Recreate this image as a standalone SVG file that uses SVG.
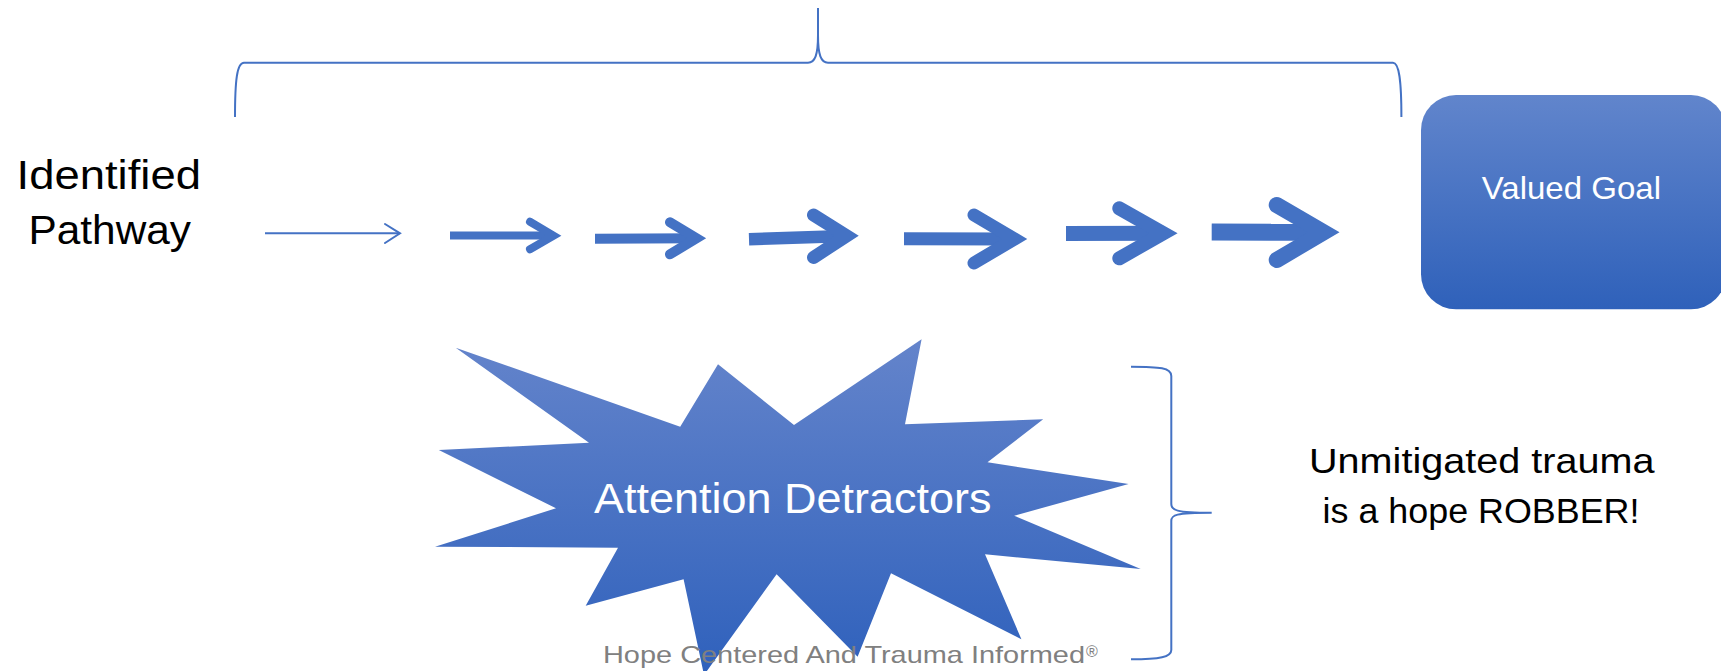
<svg xmlns="http://www.w3.org/2000/svg" width="1721" height="671" viewBox="0 0 1721 671">
<defs>
<linearGradient id="gBox" x1="0" y1="0" x2="0" y2="1">
<stop offset="0" stop-color="#6185CC"/>
<stop offset="1" stop-color="#2F61BA"/>
</linearGradient>
<linearGradient id="gStar" x1="0" y1="0" x2="0" y2="1">
<stop offset="0" stop-color="#6484CB"/>
<stop offset="1" stop-color="#2F61BC"/>
</linearGradient>
</defs>
<style>
.brace{fill:none;stroke:#4472C4;stroke-width:2}
.shaft{fill:none;stroke:#4472C4;stroke-linecap:butt}
.head{fill:none;stroke:#4472C4;stroke-linecap:round;stroke-linejoin:miter;stroke-miterlimit:10}
.lbl{font-family:"Liberation Sans",Arial,sans-serif;fill:#000}
.wht{font-family:"Liberation Sans",Arial,sans-serif;fill:#FFFFFF}
.foot{font-family:"Liberation Sans",Arial,sans-serif;fill:#808080}
</style>
<rect width="1721" height="671" fill="#FFFFFF"/>

<g id="brace-top">
<path class="brace" d="M235,117 C235,80 237,62.7 244,62.7 L808,62.7 C815,62.7 818,55 818,35 L818,8 L818,35 C818,55 821,62.7 828,62.7 L1393,62.7 C1399,62.7 1401.4,80 1401.4,117"/>
</g>

<g id="identified-pathway">
<text class="lbl" x="16.5" y="188.5" font-size="40.5" textLength="184.5" lengthAdjust="spacingAndGlyphs">Identified</text>
<text class="lbl" x="28.5" y="244" font-size="40.5" textLength="162.5" lengthAdjust="spacingAndGlyphs">Pathway</text>
</g>

<g id="connectors">
<line class="shaft" x1="265" y1="233.3" x2="400" y2="233.3" stroke-width="2"/>
<polyline class="head" points="385,224 400,233.3 385,243" stroke-width="2"/>

<line class="shaft" x1="450" y1="235.5" x2="553.5" y2="235.6" stroke-width="8"/>
<polyline class="head" points="530,221.7 553.5,235.6 530,249.3" stroke-width="8"/>

<line class="shaft" x1="595" y1="238.8" x2="696.5" y2="238.3" stroke-width="10"/>
<polyline class="head" points="670,222.3 696.5,238.3 670,254.3" stroke-width="10"/>

<line class="shaft" x1="749" y1="239.2" x2="846.7" y2="236" stroke-width="12.5"/>
<polyline class="head" points="813.5,215 846.7,235.8 813.5,257.5" stroke-width="13"/>

<line class="shaft" x1="904" y1="238.8" x2="1014.5" y2="239" stroke-width="13"/>
<polyline class="head" points="974,215 1014.5,239 974,263 " stroke-width="13"/>

<line class="shaft" x1="1066" y1="233.5" x2="1163.4" y2="233.3" stroke-width="15"/>
<polyline class="head" points="1119.3,208.3 1163.4,233.3 1119.3,258.3" stroke-width="14"/>

<line class="shaft" x1="1211.7" y1="232" x2="1323.7" y2="232.3" stroke-width="17"/>
<polyline class="head" points="1276.7,205 1323.7,232.3 1276.7,260" stroke-width="16"/>
</g>

<g id="valued-goal">
<rect x="1421" y="95" width="305" height="214.3" rx="35" ry="35" fill="url(#gBox)"/>
<text class="wht" x="1481.7" y="199.3" font-size="32" textLength="179.3" lengthAdjust="spacingAndGlyphs">Valued Goal</text>
</g>

<g id="attention-detractors">
<polygon fill="url(#gStar)" points="455.7,347.7 680.2,426.7 718,364.3 794,425 921.6,339.3 905,424.3 1043.2,419.3 987.5,462.3 1128.6,484 1014.2,515.7 1140.7,569 985,554.3 1021.4,639.3 891,573.3 857.6,656.7 776.6,574.3 704,675 683.6,579.3 585.7,605.7 618,547.7 435,546.7 556,508.3 438.8,450 589,442.7"/>
<text class="wht" x="594" y="513.3" font-size="42" textLength="397.4" lengthAdjust="spacingAndGlyphs">Attention Detractors</text>
</g>

<g id="brace-right">
<path class="brace" d="M1131,366.7 C1160,366.7 1171.3,368 1171.3,376 L1171.3,504 C1171.3,510 1175,512.7 1211.7,512.7 C1175,512.7 1171.3,515 1171.3,521 L1171.3,650 C1171.3,657 1160,659.3 1131,659.3"/>
</g>

<g id="hope-robber">
<text class="lbl" x="1309" y="473.3" font-size="35" textLength="345.5" lengthAdjust="spacingAndGlyphs">Unmitigated trauma</text>
<text class="lbl" x="1322.6" y="522.7" font-size="35" textLength="316.8" lengthAdjust="spacingAndGlyphs">is a hope ROBBER!</text>
</g>

<g id="footer">
<text class="foot" x="603" y="663.3" font-size="24" textLength="482" lengthAdjust="spacingAndGlyphs">Hope Centered And Trauma Informed</text>
<text class="foot" x="1086" y="657" font-size="16">®</text>
</g>
</svg>
